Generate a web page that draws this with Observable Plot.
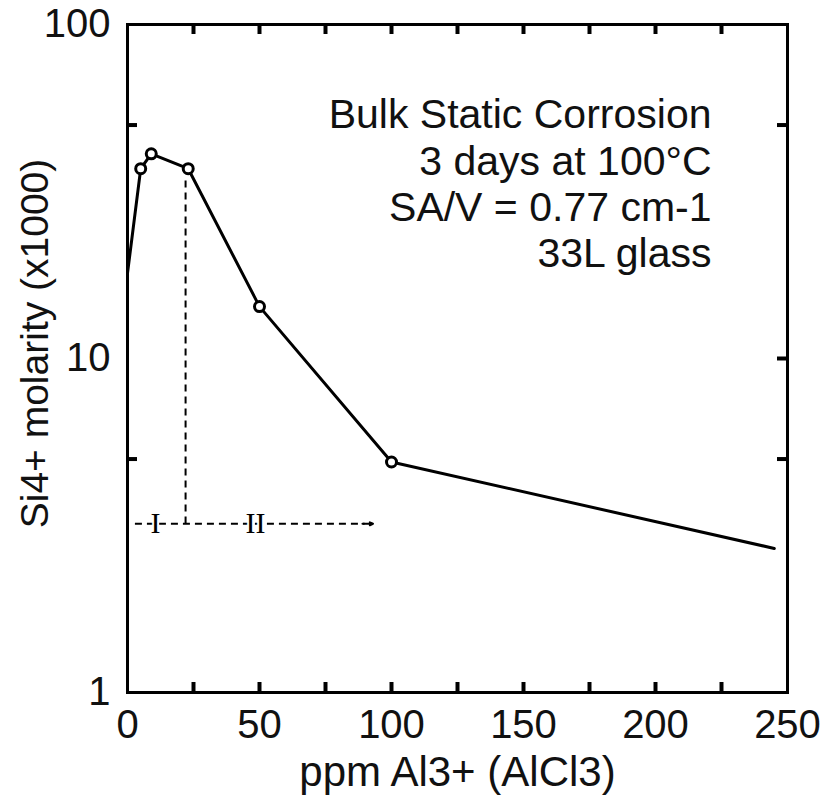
<!DOCTYPE html>
<html><head><meta charset="utf-8">
<script src="https://cdn.jsdelivr.net/npm/d3@7"></script>
<script src="https://cdn.jsdelivr.net/npm/@observablehq/plot@0.6"></script>
<style>body{margin:0;background:#fff;}</style>
</head><body><div id="chart"></div>
<script>
// ---- data ----
const ppm = [0, 5, 9, 23, 50, 100, 245];          // ppm Al3+ (AlCl3)
const si = [18, 37, 41, 37, 14.3, 4.9, 2.7];       // Si4+ molarity (x1000)
const hasMarker = [false, true, true, true, true, true, false];
const xTickValues = [0, 50, 100, 150, 200, 250];
const yTickValues = [1, 10, 100];
const xMinorTicks = [25, 50, 75, 100, 125, 150, 175, 200, 225];
const yRightTicks = [5, 10, 50];
const yLeftTicks = [5, 50];
const noteLines = ["Bulk Static Corrosion", "3 days at 100°C", "SA/V = 0.77 cm-1", "33L glass"];
const xLabel = "ppm Al3+ (AlCl3)";
const yLabel = "Si4+ molarity (x1000)";
// region annotation (data coordinates)
const dividerX = [22];
const dividerY = [34, 3.2];
const regionArrowX = [3, 93];
const regionArrowY = [3.2];
const regionNames = ["I", "II"];
const regionNameX = [10.6, 48.5];

// ---- chart ----
const W = 830, H = 802, mL = 127, mR = 43, mT = 24, mB = 110;
const pw = W - mL - mR, ph = H - mT - mB;
const pts = ppm.map((x, i) => ({x, y: si[i], m: hasMarker[i]}));
const regions = regionNames.map((n, i) => ({x: regionNameX[i], y: regionArrowY[0], n}));
const font = "'Liberation Sans', Arial, Helvetica, sans-serif";

const chart = Plot.plot({
  width: W, height: H,
  marginLeft: mL, marginRight: mR, marginTop: mT, marginBottom: mB,
  style: {fontFamily: font, color: "#000", background: "#fff"},
  x: {domain: [0, 250]},
  y: {type: "log", domain: [1, 100]},
  marks: [
    Plot.axisX(xTickValues, {anchor: "bottom", tickSize: 0, tickPadding: 17, fontSize: 40, label: null, tickFormat: d => String(d), fill: "#111"}),
    Plot.axisY(yTickValues, {anchor: "left", tickSize: 0, tickPadding: 17, fontSize: 40, label: null, tickFormat: d => String(d), fill: "#111"}),
    Plot.ruleX(xMinorTicks, {insetBottom: ph - 10, stroke: "#000", strokeWidth: 4}),
    Plot.ruleX(xMinorTicks, {insetTop: ph - 10, stroke: "#000", strokeWidth: 4}),
    Plot.ruleY(yRightTicks, {insetLeft: pw - 10, stroke: "#000", strokeWidth: 4}),
    Plot.ruleY(yLeftTicks, {insetRight: pw - 10, stroke: "#000", strokeWidth: 4}),
    Plot.ruleX(dividerX, {y1: dividerY[0], y2: dividerY[1], stroke: "#000", strokeWidth: 2, strokeDasharray: "7,5"}),
    Plot.ruleY(regionArrowY, {x1: regionArrowX[0], x2: regionArrowX[1] - 3, stroke: "#000", strokeWidth: 2, strokeDasharray: "7,5"}),
    Plot.arrow(regionArrowY, {x1: regionArrowX[1] - 4, x2: regionArrowX[1], y1: d => d, y2: d => d, stroke: "#000", strokeWidth: 2, headLength: 12, headAngle: 50}),
    Plot.text(regions, {x: "x", y: "y", text: "n", fontSize: 30, fontFamily: "'Liberation Serif', serif", stroke: "#fff", strokeWidth: 4, fill: "#000", paintOrder: "stroke"}),
    Plot.line(pts, {x: "x", y: "y", stroke: "#000", strokeWidth: 3}),
    Plot.dot(pts.filter(d => d.m), {x: "x", y: "y", r: 5, fill: "#fff", stroke: "#000", strokeWidth: 3}),
    Plot.text([noteLines.join("\n")], {frameAnchor: "top-right", dx: -76, dy: 71, textAnchor: "end", lineAnchor: "top", fontSize: 41, lineHeight: 1.13, fill: "#111"}),
    Plot.text([xLabel], {frameAnchor: "bottom", dy: 80, textAnchor: "middle", lineAnchor: "middle", fontSize: 42, fill: "#111"}),
    Plot.text([yLabel], {frameAnchor: "left", dx: -92, dy: -15, rotate: -90, textAnchor: "middle", lineAnchor: "middle", fontSize: 39, fill: "#111"}),
    Plot.frame({stroke: "#000", strokeWidth: 3})
  ]
});
document.getElementById("chart").append(chart);
</script>
</body></html>
